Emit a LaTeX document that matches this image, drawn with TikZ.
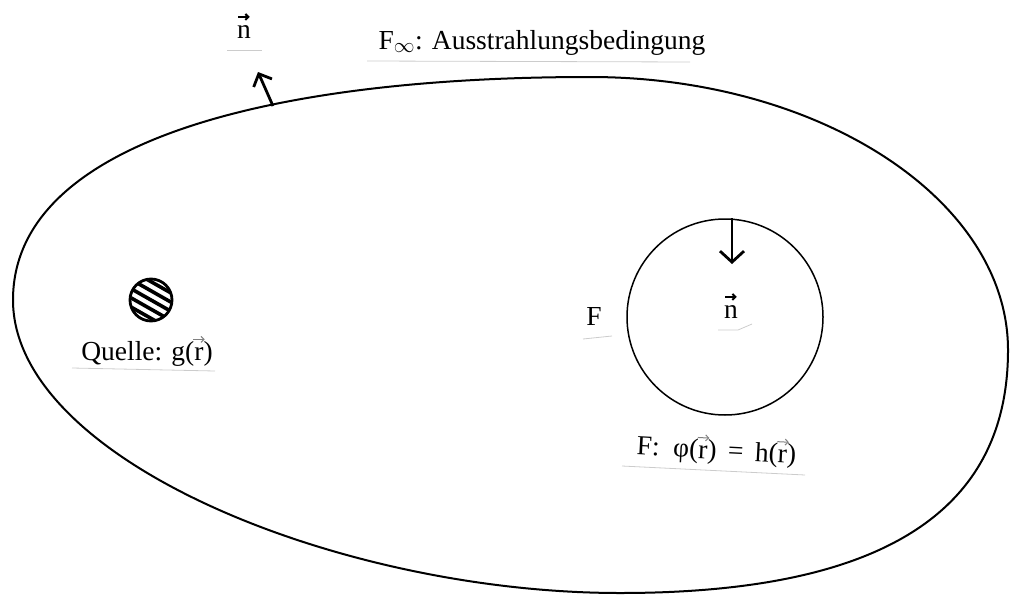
\documentclass[tikz,border=0pt]{standalone}
\usepackage{fontspec}
\setmainfont{Liberation Serif}
\usetikzlibrary{arrows.meta,calc}
\newcommand{\vecover}[3][gray]{\leavevmode\ooalign{#2\cr\hidewidth\raisebox{0.62em}{\tikz\draw[#1,line width=#3,-{Straight Barb[length=3pt,width=6pt]}] (0,0)--(0.42em,0);}\hidewidth\cr}}
\tikzset{
  boundary/.style={line width=2pt, black, line join=round},
  surf/.style={draw, circle, line width=1.5pt, inner sep=0pt, minimum size=196pt},
  normalarrow/.style={line width=2.8pt, -{Straight Barb[length=11pt,width=24pt]}},
  lbl/.style={font=\fontsize{27.5}{32}\selectfont, inner sep=0pt},
  scanline/.style={gray!40, line width=0.8pt},
}
\begin{document}
\begin{tikzpicture}[x=1pt,y=-1pt]
\useasboundingbox (0,0) rectangle (1011,594);
% outer boundary F_infinity
\coordinate (L) at (13,300);
\coordinate (T) at (590,77);
\coordinate (R) at (1008,350);
\coordinate (B) at (620,593);
\draw[boundary] (L) .. controls (13,145) and (260,77) .. (T)
  .. controls (820,77) and (1008,200) .. (R)
  .. controls (1008,500) and (900,593) .. (B)
  .. controls (340,593) and (13,460) .. (L) -- cycle;
% outer normal
\coordinate (footout) at (273,106);
\coordinate (tipout) at (258,72);
\draw[normalarrow, -{Straight Barb[length=10pt,width=20pt]}] (footout) -- (tipout);
% inner surface F
\node[surf] (F) at (725,317) {};
\coordinate (tipin) at (732,264);
\draw[normalarrow] (F.north -| tipin) -- (tipin);
% source
\node[circle, draw, line width=2.8pt, minimum size=42pt, inner sep=0pt] (src) at (151,300) {};
\begin{scope}
  \clip (151,300) circle (20pt);
  \foreach \d in {-16,-8,0,8,16} {
    \draw[line width=3.6pt] ($(151,300)+(-30,-17)+(-0.49*\d,0.87*\d)$) -- ++(60,34);
  }
\end{scope}
% labels
\node[lbl, anchor=base] (finf) at (542,49) {F$_\infty$: Ausstrahlungsbedingung};
\node[lbl, anchor=base] (ntop) at (244,38) {\vecover[black]{n}{2pt}};
\node[lbl, anchor=base] (quelle) at (147,360) {Quelle: g(\vecover{r}{1pt})};
\node[lbl, anchor=base] (Flbl) at (594,325) {F};
\node[lbl, anchor=base] (nin) at (731,318) {\vecover[black]{n}{2pt}};
\node[lbl, anchor=base, rotate=-3] (cond) at (716,459) {F:\ \ φ(\vecover{r}{1pt})\ \,=\ \,h(\vecover{r}{1pt})};
% faint scan lines
\draw[scanline] (227,50) -- (262,50);
\draw[scanline] (367,61) -- (690,62);
\draw[scanline] (72,368) -- (215,371);
\draw[scanline] (583,339) -- (612,336);
\draw[scanline] (718,330) -- (738,330) -- (752,324);
\draw[scanline] (622,466) -- (805,475);
\end{tikzpicture}
\end{document}
